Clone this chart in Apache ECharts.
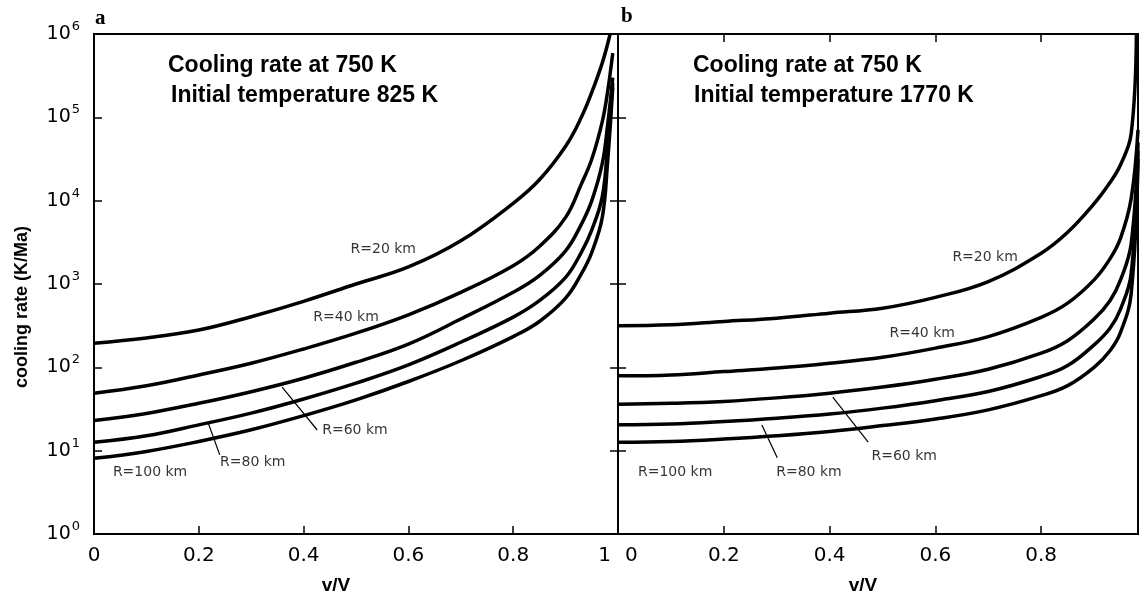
<!DOCTYPE html>
<html lang="en">
    <head>
        <meta charset="UTF-8" />
        <script src="https://cdn.jsdelivr.net/npm/echarts@6.0.0/dist/echarts.min.js"></script>
        <title>Cooling rate</title>
        <style>
            html, body {
                margin: 0;
                padding: 0;
                background: #fff;
            }

            #chart {
                width: 1140px;
                height: 594px;
            }
        </style>
    </head>

    <body>
        <div id="chart"></div>
        <script type="text/javascript">
            // panel a: initial temperature 825 K
            var xA = [0, 0.1, 0.2, 0.3, 0.4, 0.5, 0.6, 0.7, 0.8, 0.85, 0.9, 0.93, 0.95, 0.97, 0.98, 0.99];
            var xA20 = [0, 0.1, 0.2, 0.3, 0.4, 0.5, 0.6, 0.7, 0.8, 0.85, 0.9, 0.93, 0.95, 0.97, 0.985];
            var a20 = [195, 225, 280, 405, 620, 1000, 1600, 3300, 9300, 17800, 45000, 100000, 200000, 450000, 1000000];
            var a40 = [49, 60, 81, 112, 166, 257, 427, 794, 1660, 2820, 6300, 15800, 31600, 89000, 200000, 590000];
            var a60 = [23, 28, 37, 51, 74, 115, 190, 380, 795, 1260, 2500, 5200, 10000, 28000, 79000, 300000];
            var a80 = [12.6, 15.1, 20.4, 28.2, 41.7, 64.6, 107, 200, 400, 630, 1200, 2400, 4470, 11200, 44700, 257000];
            var a100 = [8.1, 9.8, 12.9, 17.8, 26.3, 40.7, 67.6, 120, 234, 355, 676, 1320, 2400, 6300, 28200, 229000];

            // panel b: initial temperature 1770 K
            var xB = [0, 0.1, 0.2, 0.3, 0.4, 0.5, 0.6, 0.7, 0.8, 0.85, 0.9, 0.93, 0.95, 0.97, 0.983];
            var xB20 = [0, 0.1, 0.2, 0.3, 0.4, 0.5, 0.6, 0.7, 0.8, 0.85, 0.9, 0.93, 0.95, 0.97, 0.98];
            var b20 = [316, 324, 355, 389, 447, 513, 692, 1070, 2340, 4170, 9200, 16500, 27000, 63000, 1000000];
            var b40 = [79, 81, 89, 98, 112, 132, 170, 234, 398, 589, 1120, 2000, 3550, 10500, 70800];
            var b60 = [36, 37, 39, 43, 49, 58, 72, 95, 148, 209, 380, 631, 1120, 3020, 50100];
            var b80 = [20.4, 20.9, 22.4, 24.5, 27.5, 32.4, 39.8, 51.3, 77.6, 105, 186, 295, 501, 1320, 39800];
            var b100 = [12.6, 12.9, 13.8, 15.1, 17.0, 20.0, 24.0, 30.9, 45.7, 60.3, 100, 158, 263, 759, 31600];

            var xTicks = [0, 0.2, 0.4, 0.6, 0.8, 1];

            // curve labels [v/V, rate, text]
            var labelsA = [[0.552, 2570, "R=20 km"], [0.481, 400, "R=40 km"], [0.498, 17.3, "R=60 km"], [0.303, 7.3, "R=80 km"], [0.107, 5.5, "R=100 km"]];
            var labelsB = [[0.694, 2100, "R=20 km"], [0.575, 258, "R=40 km"], [0.541, 8.6, "R=60 km"], [0.361, 5.5, "R=80 km"], [0.108, 5.5, "R=100 km"]];
            var leadersA = [[[0.359, 58], [0.426, 17.7]], [[0.218, 21.5], [0.24, 8.9]]];
            var leadersB = [[[0.406, 44], [0.473, 12.7]], [[0.272, 20.3], [0.301, 8.2]]];

            var myChart = echarts.init(document.getElementById("chart"));

            function pairs(xs, ys) {
                return xs.map(function (x, i) {
                    return [x, ys[i]];
                });
            }

            function curve(name, grid, xs, ys) {
                return {
                    name: name,
                    type: "line",
                    xAxisIndex: grid === 0 ? 0 : 1,
                    yAxisIndex: grid === 0 ? 0 : 1,
                    data: pairs(xs, ys),
                    showSymbol: false,
                    smooth: 0.4,
                    lineStyle: { color: "#000", width: 3.5 },
                    silent: true,
                };
            }

            function leader(grid, seg) {
                return {
                    type: "line",
                    xAxisIndex: grid === 0 ? 0 : 1,
                    yAxisIndex: grid === 0 ? 0 : 1,
                    data: seg,
                    showSymbol: false,
                    lineStyle: { color: "#000", width: 1.2 },
                    silent: true,
                };
            }

            function labels(grid, list) {
                return {
                    type: "scatter",
                    xAxisIndex: grid === 0 ? 0 : 1,
                    yAxisIndex: grid === 0 ? 0 : 1,
                    symbolSize: 0,
                    data: list,
                    label: {
                        show: true,
                        position: "inside",
                        formatter: function (p) {
                            return p.value[2];
                        },
                        color: "#000",
                        fontFamily: "DejaVu Sans",
                        fontSize: 14,
                    },
                    silent: true,
                };
            }

            var tickStyle = { show: true, inside: true, length: 8, lineStyle: { color: "#000", width: 1.5 } };

            var option = {
                animation: false,
                grid: [
                    { left: 94, top: 34, width: 524, height: 500, show: true, borderColor: "#000", borderWidth: 2 },
                    { left: 618, top: 34, width: 520, height: 500, show: true, borderColor: "#000", borderWidth: 2 },
                ],
                xAxis: [
                    {
                        gridIndex: 0,
                        type: "value",
                        min: 0,
                        max: 1,
                        interval: 0.2,
                        axisLine: { show: false },
                        axisTick: tickStyle,
                        splitLine: { show: false },
                        axisLabel: {
                            color: "#000",
                            fontFamily: "DejaVu Sans",
                            fontSize: 20,
                            margin: 12,
                            alignMaxLabel: "right",
                            formatter: function (v) {
                                var r = Math.round(v * 10) / 10;
                                if (r === 1) return "{e|1}";
                                return xTicks.indexOf(r) >= 0 ? String(r) : "";
                            },
                            rich: {
                                e: { color: "#000", fontFamily: "DejaVu Sans", fontSize: 20, padding: [0, 7, 0, 0] },
                            },
                        },
                    },
                    {
                        gridIndex: 1,
                        type: "value",
                        min: 0,
                        max: 0.983,
                        interval: 0.2,
                        axisLine: { show: false },
                        axisTick: tickStyle,
                        splitLine: { show: false },
                        axisLabel: {
                            color: "#000",
                            fontFamily: "DejaVu Sans",
                            fontSize: 20,
                            margin: 12,
                            showMaxLabel: false,
                            alignMinLabel: "left",
                            formatter: function (v) {
                                var r = Math.round(v * 10) / 10;
                                if (r === 0) return "{z|0}";
                                return String(r);
                            },
                            rich: {
                                z: { color: "#000", fontFamily: "DejaVu Sans", fontSize: 20, padding: [0, 0, 0, 7] },
                            },
                        },
                    },
                    {
                        gridIndex: 1,
                        type: "value",
                        position: "top",
                        min: 0,
                        max: 0.983,
                        interval: 0.2,
                        axisLine: { show: false },
                        axisTick: tickStyle,
                        axisLabel: { show: false },
                        splitLine: { show: false },
                    },
                ],
                yAxis: [
                    {
                        gridIndex: 0,
                        type: "log",
                        logBase: 10,
                        min: 1,
                        max: 1000000,
                        axisLine: { show: false },
                        axisTick: tickStyle,
                        splitLine: { show: false },
                        axisLabel: {
                            margin: 14,
                            formatter: function (v) {
                                return "{b|10}{s|" + Math.round(Math.log10(v)) + "}";
                            },
                            rich: {
                                b: { color: "#000", fontFamily: "DejaVu Sans", fontSize: 19 },
                                s: { color: "#000", fontFamily: "DejaVu Sans", fontSize: 13, padding: [0, 0, 15, 1] },
                            },
                        },
                    },
                    {
                        gridIndex: 1,
                        type: "log",
                        logBase: 10,
                        min: 1,
                        max: 1000000,
                        axisLine: { show: false },
                        axisTick: tickStyle,
                        axisLabel: { show: false },
                        splitLine: { show: false },
                    },
                    {
                        gridIndex: 1,
                        type: "log",
                        logBase: 10,
                        position: "right",
                        min: 1,
                        max: 1000000,
                        axisLine: { show: false },
                        axisTick: tickStyle,
                        axisLabel: { show: false },
                        splitLine: { show: false },
                    },
                ],
                graphic: [
                    { type: "text", left: 95, top: 8, style: { text: "a", font: "bold 21px 'Liberation Serif'", fill: "#000" } },
                    { type: "text", left: 621, top: 6, style: { text: "b", font: "bold 21px 'Liberation Serif'", fill: "#000" } },
                    { type: "text", left: 168, top: 54, style: { text: "Cooling rate at 750 K", font: "bold 23px 'Liberation Sans'", fill: "#000" } },
                    { type: "text", left: 171, top: 84, style: { text: "Initial temperature 825 K", font: "bold 23px 'Liberation Sans'", fill: "#000" } },
                    { type: "text", left: 693, top: 54, style: { text: "Cooling rate at 750 K", font: "bold 23px 'Liberation Sans'", fill: "#000" } },
                    { type: "text", left: 694, top: 84, style: { text: "Initial temperature 1770 K", font: "bold 23px 'Liberation Sans'", fill: "#000" } },
                    { type: "text", x: 336, y: 586, style: { text: "v/V", font: "bold 19px 'Liberation Sans'", fill: "#000", align: "center", verticalAlign: "middle" } },
                    { type: "text", x: 863, y: 586, style: { text: "v/V", font: "bold 19px 'Liberation Sans'", fill: "#000", align: "center", verticalAlign: "middle" } },
                    {
                        type: "text",
                        x: 22,
                        y: 307,
                        rotation: Math.PI / 2,
                        style: { text: "cooling rate (K/Ma)", font: "bold 18px 'Liberation Sans'", fill: "#000", align: "center", verticalAlign: "middle" },
                    },
                ],
                series: [
                    curve("a R=20", 0, xA20, a20),
                    curve("a R=40", 0, xA, a40),
                    curve("a R=60", 0, xA, a60),
                    curve("a R=80", 0, xA, a80),
                    curve("a R=100", 0, xA, a100),
                    curve("b R=20", 1, xB20, b20),
                    curve("b R=40", 1, xB, b40),
                    curve("b R=60", 1, xB, b60),
                    curve("b R=80", 1, xB, b80),
                    curve("b R=100", 1, xB, b100),
                    leader(0, leadersA[0]),
                    leader(0, leadersA[1]),
                    leader(1, leadersB[0]),
                    leader(1, leadersB[1]),
                    labels(0, labelsA),
                    labels(1, labelsB),
                ],
            };

            myChart.setOption(option);
        </script>
    </body>
</html>
